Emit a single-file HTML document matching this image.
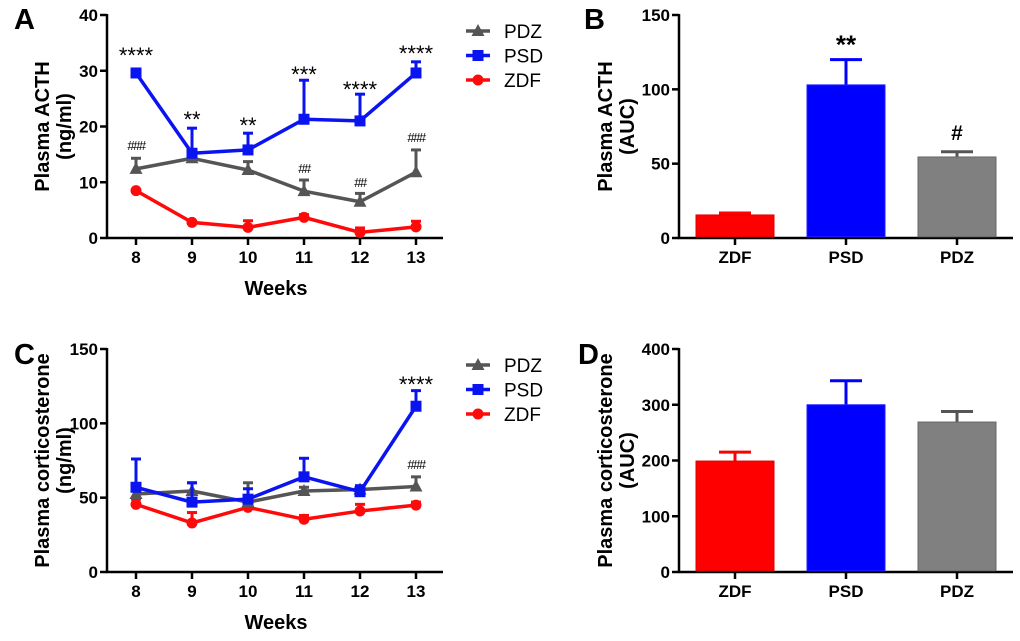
<!DOCTYPE html>
<html><head><meta charset="utf-8"><style>
body{margin:0;background:#fff}
svg{display:block;font-family:"Liberation Sans",sans-serif}
.b{font-weight:bold}
</style></head><body>
<svg id="s" width="1020" height="641" viewBox="0 0 1020 641" xmlns="http://www.w3.org/2000/svg"></svg>
<script>
// ---- data ----
const weeks=[8,9,10,11,12,13];
const aPDZ=[12.4,14.3,12.2,8.4,6.5,11.8];
const aPDZerr=[14.3,14.8,13.7,10.4,8.0,15.8];
const aPSD=[29.6,15.2,15.8,21.3,21.0,29.6];
const aPSDerr=[30.3,19.7,18.8,28.3,25.8,31.6];
const aZDF=[8.5,2.8,1.9,3.7,1.0,2.0];
const aZDFerr=[8.6,3.0,3.1,4.2,1.8,3.0];
const aStars=["****","**","**","***","****","****"];
const aStarY=[51,115,121,70,85,49];
const aHash=["###","","","##","##","###"];
const aHashY=[145,0,0,168,182,137];
const aTicks=[0,10,20,30,40];
const cPDZ=[52.5,54.5,47,54.5,55.5,57.5];
const cPDZerr=[56,60,60,57,58,64];
const cPSD=[57,47,49,64,54,111.5];
const cPSDerr=[76,60,56,76.5,58,122];
const cZDF=[45.5,33,43.5,35.5,41,45];
const cZDFerr=[49,40,45,38,45.5,47];
const cStars=["","","","","","****"];
const cStarY=[0,0,0,0,0,380];
const cHash=["","","","","","###"];
const cHashY=[0,0,0,0,0,464];
const cTicks=[0,50,100,150];
const groups=["ZDF","PSD","PDZ"];
const bVals=[15.5,103,54.5];
const bErr=[16.8,120,58];
const bMarks=["","**","#"];
const dVals=[199,300,269];
const dErr=[215,343,288];
const bTicks=[0,50,100,150];
const dTicks=[0,100,200,300,400];

const S=document.getElementById('s');const NS='http://www.w3.org/2000/svg';
function el(t,a,p){const e=document.createElementNS(NS,t);for(const k in a)e.setAttribute(k,a[k]);(p||S).appendChild(e);return e;}
function txt(x,y,s,a,p){const e=el('text',Object.assign({x:x,y:y},a),p);e.textContent=s;return e;}
const COL={PDZ:'#555555',PSD:'#0a14f0',ZDF:'#ff0a0a'};

function axesLine(g,x0,x1,yb,yt,max,ticks,xs,xf){
  el('line',{x1:x0,y1:yt-1,x2:x0,y2:yb+1,stroke:'#000','stroke-width':2.5},g);
  el('line',{x1:x0-1,y1:yb,x2:x1,y2:yb,stroke:'#000','stroke-width':2.5},g);
  const yf=v=>yb-(yb-yt)*v/max;
  ticks.forEach(t=>{el('line',{x1:x0-7,y1:yf(t),x2:x0,y2:yf(t),stroke:'#000','stroke-width':2.5},g);
    const l=txt(x0-9,yf(t)+6,String(t),{'text-anchor':'end','font-size':17,'class':'b'},g);
    });
  xs.forEach((c,i)=>{const x=xf(i);el('line',{x1:x,y1:yb,x2:x,y2:yb+7,stroke:'#000','stroke-width':2.5},g);
    const l=txt(x,yb+25,String(c),{'text-anchor':'middle','font-size':17,'class':'b'},g);
    });
  return yf;
}
function marker(g,kind,x,y,c){
  if(kind==='PSD')el('rect',{x:x-5.5,y:y-5.5,width:11,height:11,fill:c},g);
  else if(kind==='ZDF')el('circle',{cx:x,cy:y,r:5.5,fill:c},g);
  else el('polygon',{points:`${x},${y-7} ${x+6.5},${y+5} ${x-6.5},${y+5}`,fill:c},g);
}
function linePanel(name,yb,yt,max,ticks,series,stars,starY,hash,hashY,title,legY){
  const g=el('g',{},S);
  const xf=i=>136+56*i;
  const yf=axesLine(g,107,443,yb,yt,max,ticks,weeks,xf);
  ['ZDF','PDZ','PSD'].forEach(k=>{const [v,e]=series[k];const c=COL[k];
    const sg=el('g',{},g);
    v.forEach((val,i)=>{const x=xf(i);el('line',{x1:x,y1:yf(val),x2:x,y2:yf(e[i]),stroke:c,'stroke-width':3},sg);
      el('line',{x1:x-5,y1:yf(e[i]),x2:x+5,y2:yf(e[i]),stroke:c,'stroke-width':3},sg);});
    el('polyline',{points:v.map((val,i)=>xf(i)+','+yf(val)).join(' '),fill:'none',stroke:c,'stroke-width':3.5,'stroke-linejoin':'round'},sg);
    v.forEach((val,i)=>marker(sg,k,xf(i),yf(val),c));
  });
  stars.forEach((s,i)=>{if(s){const t=txt(xf(i),starY[i]+12,s,{'text-anchor':'middle','font-size':22},g);}});
  hash.forEach((s,i)=>{if(s){const t=txt(xf(i),hashY[i]+5,s,{'text-anchor':'middle','font-size':13,'letter-spacing':'-1.5'},g);}});
  const cy=(yb+yt)/2;
  const t1=txt(0,0,title[0],{'text-anchor':'middle','font-size':20,'class':'b',transform:`translate(49,${cy}) rotate(-90)`},g);
  
  const t2=txt(0,0,title[1],{'text-anchor':'middle','font-size':20,'class':'b',transform:`translate(71,${cy}) rotate(-90)`},g);
  
  const w=txt(276,yb+57,'Weeks',{'text-anchor':'middle','font-size':20,'class':'b'},g);
  
  ['PDZ','PSD','ZDF'].forEach((k,i)=>{const lg=el('g',{},g);
    const y=legY+24.5*i;el('line',{x1:466,y1:y,x2:490,y2:y,stroke:COL[k],'stroke-width':3.5},lg);marker(lg,k,478,y,COL[k]);
    txt(504,y+7,k,{'font-size':19},lg);});
}
function barPanel(name,yb,yt,max,ticks,vals,err,marks,title){
  const g=el('g',{},S);
  const xf=i=>735+111*i;
  const yf=axesLine(g,679,1013,yb,yt,max,ticks,groups,xf);
  const fills=['#ff0000','#0000ff','#808080'],edge=['#dd0000','#2020ff','#666666'],ec=['#ff0000','#0000ff','#555555'];
  vals.forEach((v,i)=>{const x=xf(i);
    el('line',{x1:x,y1:yf(v),x2:x,y2:yf(err[i]),stroke:ec[i],'stroke-width':3},g);
    el('line',{x1:x-16,y1:yf(err[i]),x2:x+16,y2:yf(err[i]),stroke:ec[i],'stroke-width':3},g);
    const r=el('rect',{x:x-39,y:yf(v),width:78,height:yb-yf(v)-1.2,fill:fills[i],stroke:edge[i],'stroke-width':1},g);
    
    if(marks[i]){const t=txt(x,yf(err[i])-(marks[i]==='#'?12:6),marks[i],{'text-anchor':'middle','font-size':marks[i]==='#'?21:26,'class':'b'},g);}
  });
  const cy=(yb+yt)/2;
  const t1=txt(0,0,title[0],{'text-anchor':'middle','font-size':20,'class':'b',transform:`translate(612,${cy}) rotate(-90)`},g);
  
  const t2=txt(0,0,title[1],{'text-anchor':'middle','font-size':20,'class':'b',transform:`translate(634,${cy}) rotate(-90)`},g);
  
}
linePanel('panel-a',238,15,40,aTicks,{PDZ:[aPDZ,aPDZerr],PSD:[aPSD,aPSDerr],ZDF:[aZDF,aZDFerr]},aStars,aStarY,aHash,aHashY,['Plasma ACTH','(ng/ml)'],31);
linePanel('panel-c',572,349,150,cTicks,{PDZ:[cPDZ,cPDZerr],PSD:[cPSD,cPSDerr],ZDF:[cZDF,cZDFerr]},cStars,cStarY,cHash,cHashY,['Plasma corticosterone','(ng/ml)'],365);
barPanel('panel-b',238,15,150,bTicks,bVals,bErr,bMarks,['Plasma ACTH','(AUC)']);
barPanel('panel-d',572,349,400,dTicks,dVals,dErr,["","",""],['Plasma corticosterone','(AUC)']);
[['A',14,29],['B',584,29],['C',14,364],['D',578,364]].forEach(([l,x,y])=>{const t=txt(x,y,l,{'font-size':29,'class':'b'});
  
  });
</script>
</body></html>
